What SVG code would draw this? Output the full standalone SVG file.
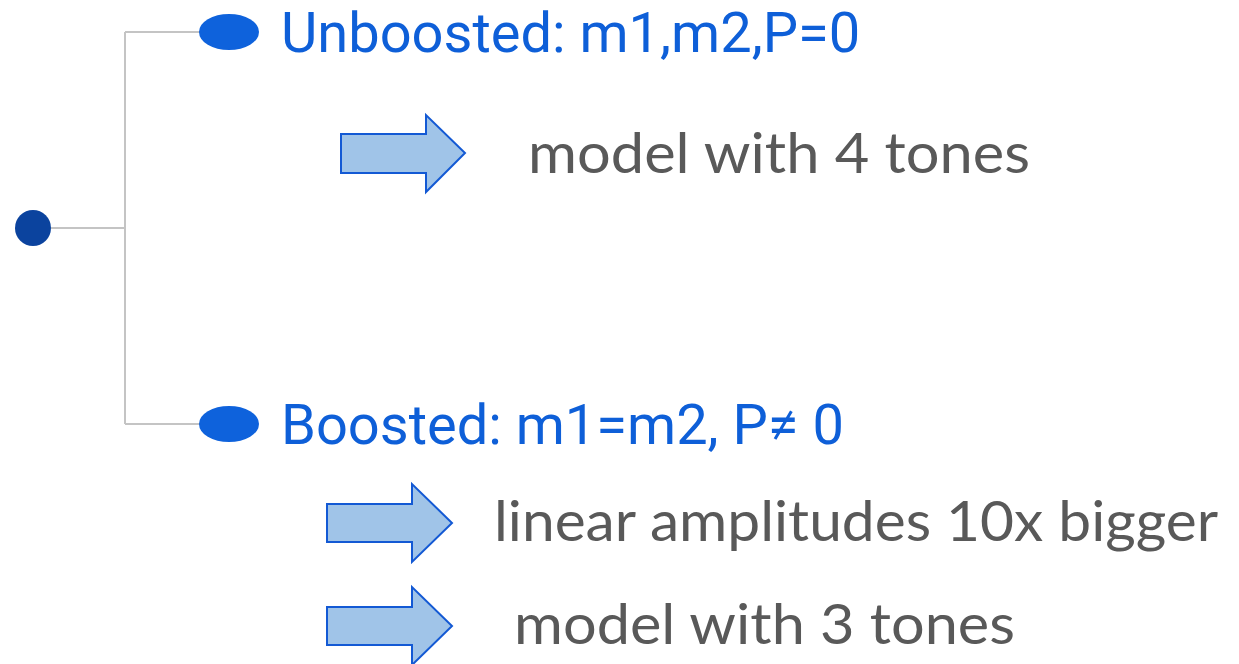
<svg xmlns="http://www.w3.org/2000/svg" width="1239" height="664" viewBox="0 0 1239 664">
<style>
.conn{fill:none;stroke:#c4c4c4;stroke-width:2}
.bullet{fill:#0e62dc}
.lbl{font-family:Roboto,"Liberation Sans",sans-serif;font-size:56px;fill:#0e5fd8}
.arrow{fill:#a0c4e8;stroke:#1359d4;stroke-width:2;stroke-linejoin:miter}
.note{font-family:Lato,"Open Sans",sans-serif;font-size:57px;fill:#595959}
</style>
<rect width="1239" height="664" fill="#ffffff"/>
<g id="connectors">
<path class="conn" d="M51,228 H125 M125,32 V424 M125,32 H200 M125,424 H200"/>
</g>
<g id="root"><circle cx="33" cy="228" r="18" fill="#0b439e"/></g>
<g id="unboosted">
<ellipse class="bullet" cx="229" cy="32" rx="30" ry="18"/>
<text class="lbl" x="281" y="52">Unboosted: m1,m2,P=0</text>
</g>
<g id="arrow1">
<polygon class="arrow" points="341,134 426,134 426,115 465,153 426,192 426,173 341,173"/>
<text class="note" x="528" y="173" textLength="502" lengthAdjust="spacingAndGlyphs">model with 4 tones</text>
</g>
<g id="boosted">
<ellipse class="bullet" cx="229" cy="424" rx="30" ry="18"/>
<text class="lbl" x="281" y="444">Boosted: m1=m2, P≠ 0</text>
</g>
<g id="arrow2">
<polygon class="arrow" points="327,504 412,504 412,484 452,523 412,562 412,542 327,542"/>
<text class="note" x="494" y="541" textLength="724" lengthAdjust="spacingAndGlyphs">linear amplitudes 10x bigger</text>
</g>
<g id="arrow3">
<polygon class="arrow" points="327,607 412,607 412,587 452,626 412,665 412,645 327,645"/>
<text class="note" x="514" y="644" textLength="501" lengthAdjust="spacingAndGlyphs">model with 3 tones</text>
</g>
</svg>
